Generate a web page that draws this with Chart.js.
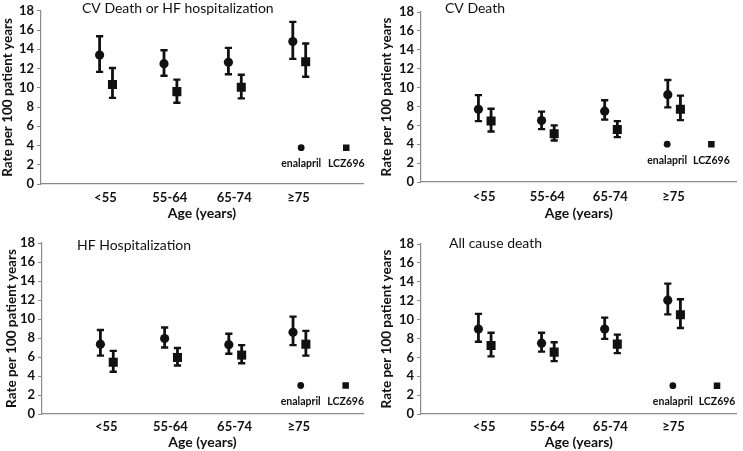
<!DOCTYPE html>
<html>
<head>
<meta charset="utf-8">
<script src="https://cdn.jsdelivr.net/npm/chart.js@4/dist/chart.umd.min.js"></script>
<style>
  html, body { margin: 0; padding: 0; background: #fff; }
  canvas { position: absolute; }
</style>
</head>
<body>
<canvas id="c1" width="372" height="225" style="left:0;top:0"></canvas>
<canvas id="c2" width="371" height="225" style="left:372px;top:0"></canvas>
<canvas id="c3" width="372" height="226" style="left:0;top:225px"></canvas>
<canvas id="c4" width="371" height="226" style="left:372px;top:225px"></canvas>
<script>
// ---------- DATA ----------
const categories = ['<55', '55-64', '65-74', '\u226575'];
const seriesNames = ['enalapril', 'LCZ696'];
const yTicks = [0, 2, 4, 6, 8, 10, 12, 14, 16, 18];

// Panel 1: CV Death or HF hospitalization
const cvhfEnalMean = [13.4, 12.5, 12.65, 14.8];
const cvhfEnalLow  = [11.65, 11.25, 11.4, 13.0];
const cvhfEnalHigh = [15.35, 13.9, 14.15, 16.85];
const cvhfLczMean  = [10.35, 9.6, 10.05, 12.7];
const cvhfLczLow   = [8.95, 8.45, 8.9, 11.15];
const cvhfLczHigh  = [12.05, 10.85, 11.35, 14.6];

// Panel 2: CV Death
const cvdEnalMean = [7.7, 6.5, 7.5, 9.25];
const cvdEnalLow  = [6.45, 5.6, 6.6, 7.9];
const cvdEnalHigh = [9.2, 7.45, 8.65, 10.8];
const cvdLczMean  = [6.45, 5.1, 5.55, 7.7];
const cvdLczLow   = [5.35, 4.4, 4.75, 6.55];
const cvdLczHigh  = [7.75, 6.0, 6.45, 9.15];

// Panel 3: HF Hospitalization
const hfEnalMean = [7.35, 7.95, 7.3, 8.6];
const hfEnalLow  = [6.15, 7.0, 6.35, 7.25];
const hfEnalHigh = [8.85, 9.1, 8.45, 10.25];
const hfLczMean  = [5.45, 5.95, 6.2, 7.35];
const hfLczLow   = [4.45, 5.1, 5.35, 6.15];
const hfLczHigh  = [6.65, 6.95, 7.25, 8.75];

// Panel 4: All cause death
const acdEnalMean = [9.0, 7.5, 9.0, 12.05];
const acdEnalLow  = [7.65, 6.6, 7.95, 10.55];
const acdEnalHigh = [10.6, 8.6, 10.2, 13.8];
const acdLczMean  = [7.25, 6.55, 7.4, 10.5];
const acdLczLow   = [6.1, 5.6, 6.45, 9.1];
const acdLczHigh  = [8.6, 7.6, 8.4, 12.15];

// ---------- LAYOUT / STYLE ----------
const FONT = 'Lato, "Open Sans", sans-serif';
const INK = '#111';
const AXIS = '#8a8a8a';

const panels = [
  { id: 'c1', title: 'CV Death or HF hospitalization',
    enal: [cvhfEnalMean, cvhfEnalLow, cvhfEnalHigh], lcz: [cvhfLczMean, cvhfLczLow, cvhfLczHigh],
    legendY: 3.78, legendX: [4.04, 4.74],
    yW: 41, xH: 41, pad: { top: 9, right: 9 }, yTitlePad: 0, titleDx: 41, titleY: 8, tickPad: 6, xTitlePad: 3 },
  { id: 'c2', title: 'CV Death',
    enal: [cvdEnalMean, cvdEnalLow, cvdEnalHigh], lcz: [cvdLczMean, cvdLczLow, cvdLczHigh],
    legendY: 4.0, legendX: [3.9, 4.6],
    yW: 49, xH: 43, pad: { top: 12, right: 3 }, yTitlePad: 7, titleDx: 24, titleY: 8, tickPad: 7, xTitlePad: 3 },
  { id: 'c3', title: 'HF Hospitalization',
    enal: [hfEnalMean, hfEnalLow, hfEnalHigh], lcz: [hfLczMean, hfLczLow, hfLczHigh],
    legendY: 3.0, legendX: [4.03, 4.73],
    yW: 42, xH: 37, pad: { top: 18, right: 9 }, yTitlePad: 4, titleDx: 35, titleY: 20, tickPad: 5, xTitlePad: 0 },
  { id: 'c4', title: 'All cause death',
    enal: [acdEnalMean, acdEnalLow, acdEnalHigh], lcz: [acdLczMean, acdLczLow, acdLczHigh],
    legendY: 3.0, legendX: [3.99, 4.69],
    yW: 49, xH: 37, pad: { top: 19, right: 3 }, yTitlePad: 7, titleDx: 28, titleY: 18, tickPad: 5, xTitlePad: 0 }
];

const ENAL_SHIFT = -0.09, LCZ_SHIFT = 0.11;

// Error bars drawn through the scales
const errorBarPlugin = {
  id: 'errorBars',
  beforeDatasetsDraw(chart) {
    const { ctx, scales: { x, y } } = chart;
    ctx.save();
    ctx.strokeStyle = INK;
    chart.data.datasets.forEach(ds => {
      if (!ds.errLow) return;
      ds.data.forEach((p, i) => {
        const px = x.getPixelForValue(p.x);
        const yl = y.getPixelForValue(ds.errLow[i]);
        const yh = y.getPixelForValue(ds.errHigh[i]);
        ctx.lineWidth = 2.8;
        ctx.beginPath(); ctx.moveTo(px, yl); ctx.lineTo(px, yh); ctx.stroke();
        ctx.lineWidth = 2.4;
        ctx.beginPath();
        ctx.moveTo(px - 3.6, yl); ctx.lineTo(px + 3.6, yl);
        ctx.moveTo(px - 3.6, yh); ctx.lineTo(px + 3.6, yh);
        ctx.stroke();
      });
    });
    ctx.restore();
  }
};

// Panel title and legend labels
const textPlugin = {
  id: 'panelText',
  afterDraw(chart, args, opts) {
    const { ctx, chartArea, scales: { x, y } } = chart;
    ctx.save();
    ctx.fillStyle = INK;
    ctx.font = '14px ' + FONT;
    ctx.textAlign = 'left';
    ctx.textBaseline = 'middle';
    ctx.fillText(opts.title, chartArea.left + opts.titleDx, opts.titleY);
    ctx.font = 'bold 10.5px ' + FONT;
    ctx.textAlign = 'center';
    ctx.textBaseline = 'middle';
    opts.legendX.forEach((lx, i) => {
      ctx.fillText(seriesNames[i], x.getPixelForValue(lx), y.getPixelForValue(opts.legendY) + 16);
    });
    ctx.restore();
  }
};

panels.forEach(p => {
  const toPts = (arr, shift) => arr.map((v, i) => ({ x: i + 1 + shift, y: v }));
  new Chart(document.getElementById(p.id), {
    type: 'scatter',
    data: {
      datasets: [
        { label: seriesNames[0], data: toPts(p.enal[0], ENAL_SHIFT), errLow: p.enal[1], errHigh: p.enal[2],
          pointStyle: 'circle', pointRadius: 4.6, backgroundColor: INK, borderColor: INK, borderWidth: 0 },
        { label: seriesNames[1], data: toPts(p.lcz[0], LCZ_SHIFT), errLow: p.lcz[1], errHigh: p.lcz[2],
          pointStyle: 'rect', pointRadius: 6.4, backgroundColor: INK, borderColor: INK, borderWidth: 0 },
        { label: 'legend-enal', data: [{ x: p.legendX[0], y: p.legendY }],
          pointStyle: 'circle', pointRadius: 3.4, backgroundColor: INK, borderColor: INK, borderWidth: 0 },
        { label: 'legend-lcz', data: [{ x: p.legendX[1], y: p.legendY }],
          pointStyle: 'rect', pointRadius: 4.6, backgroundColor: INK, borderColor: INK, borderWidth: 0 }
      ]
    },
    options: {
      responsive: false,
      animation: false,
      devicePixelRatio: 1,
      layout: { padding: { left: 0, top: p.pad.top, right: p.pad.right, bottom: 0 } },
      plugins: {
        legend: { display: false },
        tooltip: { enabled: false },
        panelText: { title: p.title, titleDx: p.titleDx, titleY: p.titleY, legendX: p.legendX, legendY: p.legendY }
      },
      scales: {
        x: {
          type: 'linear', min: 0, max: 5,
          afterBuildTicks: s => { s.ticks = [1, 2, 3, 4].map(v => ({ value: v })); },
          afterFit: s => { s.height = p.xH; },
          ticks: { callback: v => categories[v - 1] ?? '', color: INK, font: { family: FONT, weight: 'bold', size: 13 }, padding: p.tickPad, maxRotation: 0, autoSkip: false },
          grid: { display: true, drawOnChartArea: false, drawTicks: false, color: AXIS },
          border: { display: true, color: AXIS, width: 1.2 },
          title: { display: true, text: 'Age (years)', color: INK, font: { family: FONT, weight: 'bold', size: 14 }, padding: { top: 0, bottom: p.xTitlePad } }
        },
        y: {
          min: 0, max: 18,
          afterBuildTicks: s => { s.ticks = yTicks.map(v => ({ value: v })); },
          afterFit: s => { s.width = p.yW; },
          ticks: { color: INK, font: { family: FONT, weight: 'bold', size: 13 }, padding: 3 },
          grid: { drawOnChartArea: false, drawTicks: true, tickLength: 4, color: AXIS },
          border: { display: true, color: AXIS, width: 1.2 },
          title: { display: true, text: 'Rate per 100 patient years', color: INK, font: { family: FONT, weight: 'bold', size: 13.5 }, padding: { top: p.yTitlePad, bottom: 0 } }
        }
      }
    },
    plugins: [errorBarPlugin, textPlugin]
  });
});
</script>
</body>
</html>
